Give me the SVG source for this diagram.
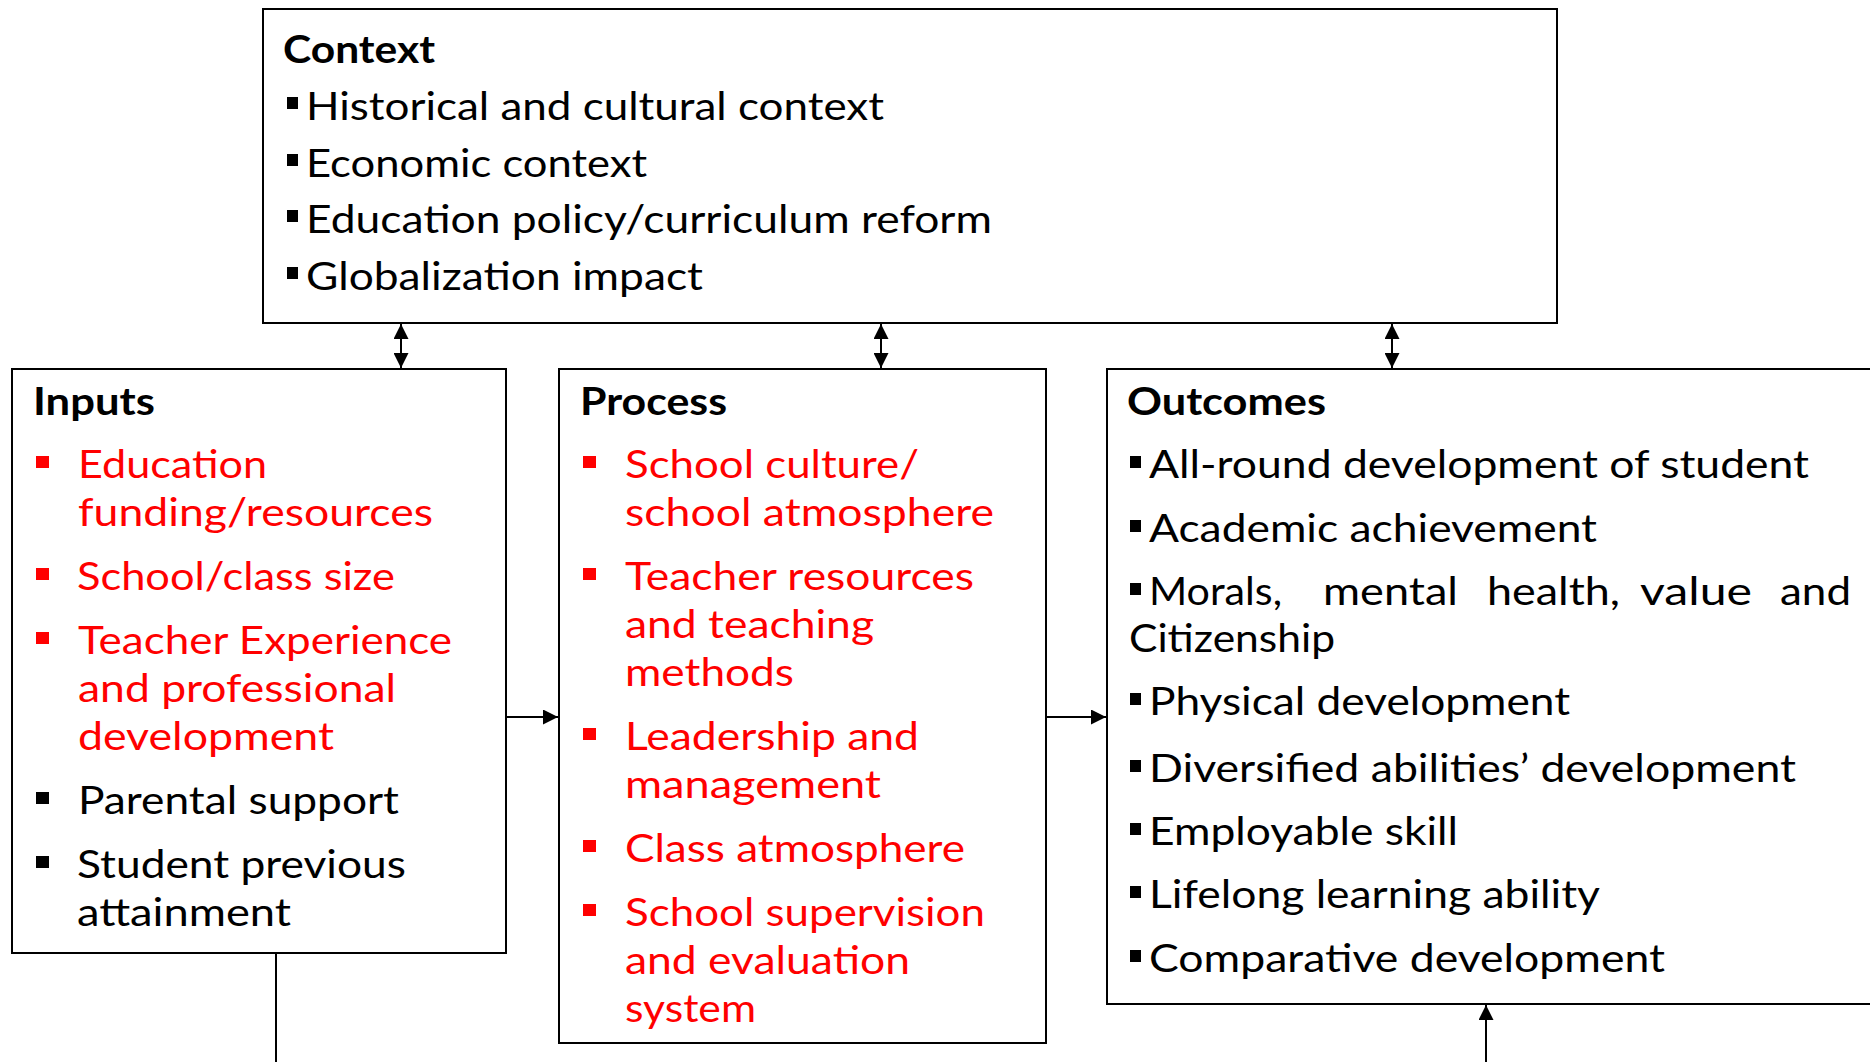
<svg xmlns="http://www.w3.org/2000/svg" width="1870" height="1062" viewBox="0 0 1870 1062">
<style>
text{font-family:Lato,"Noto Sans","Liberation Sans",sans-serif;font-size:38px;fill:#000}
.t{font-weight:bold}
.r{fill:#FF0000}
.box{fill:#fff;stroke:#000;stroke-width:2}
.bk{fill:#000}
.rb{fill:#FF0000}
.c{fill:none;stroke:#000;stroke-width:2}
</style>
<defs>
<marker id="ah" markerUnits="userSpaceOnUse" markerWidth="15" markerHeight="15" viewBox="0 0 15 15" refX="15" refY="7.5" orient="auto-start-reverse">
<path d="M0,0 L15,7.5 L0,15 Z" fill="#000"/>
</marker>
</defs>
<rect width="1870" height="1062" fill="#fff"/>
<g id="connectors">
<line class="c" x1="401" y1="324" x2="401" y2="368" marker-start="url(#ah)" marker-end="url(#ah)"/>
<line class="c" x1="881" y1="324" x2="881" y2="368" marker-start="url(#ah)" marker-end="url(#ah)"/>
<line class="c" x1="1392" y1="324" x2="1392" y2="368" marker-start="url(#ah)" marker-end="url(#ah)"/>
<line class="c" x1="507" y1="717" x2="558" y2="717" marker-end="url(#ah)"/>
<line class="c" x1="1047" y1="717" x2="1106" y2="717" marker-end="url(#ah)"/>
<line class="c" x1="276" y1="954" x2="276" y2="1062"/>
<line class="c" x1="1486" y1="1062" x2="1486" y2="1005" marker-end="url(#ah)"/>
</g>
<g id="context">
<rect class="box" x="263" y="9" width="1294" height="314"/>
<text class="t" x="283" y="63" textLength="152" lengthAdjust="spacingAndGlyphs">Context</text>
<rect class="bk" x="287" y="97" width="11" height="12"/>
<text x="306" y="120" textLength="578" lengthAdjust="spacingAndGlyphs">Historical and cultural context</text>
<rect class="bk" x="287" y="154" width="11" height="12"/>
<text x="306" y="177" textLength="341" lengthAdjust="spacingAndGlyphs">Economic context</text>
<rect class="bk" x="287" y="210" width="11" height="12"/>
<text x="306" y="233" textLength="686" lengthAdjust="spacingAndGlyphs">Education policy/curriculum reform</text>
<rect class="bk" x="287" y="267" width="11" height="12"/>
<text x="306" y="290" textLength="397" lengthAdjust="spacingAndGlyphs">Globalization impact</text>
</g>
<g id="inputs">
<rect class="box" x="12" y="369" width="494" height="584"/>
<text class="t" x="33" y="415" textLength="122" lengthAdjust="spacingAndGlyphs">Inputs</text>
<rect class="rb" x="36" y="456" width="13" height="12"/>
<text class="r" x="78" y="478" textLength="189" lengthAdjust="spacingAndGlyphs">Education</text>
<text class="r" x="78" y="526" textLength="355" lengthAdjust="spacingAndGlyphs">funding/resources</text>
<rect class="rb" x="36" y="568" width="13" height="12"/>
<text class="r" x="77" y="590" textLength="318" lengthAdjust="spacingAndGlyphs">School/class size</text>
<rect class="rb" x="36" y="632" width="13" height="12"/>
<text class="r" x="78" y="654" textLength="374" lengthAdjust="spacingAndGlyphs">Teacher Experience</text>
<text class="r" x="78" y="702" textLength="318" lengthAdjust="spacingAndGlyphs">and professional</text>
<text class="r" x="78" y="750" textLength="256" lengthAdjust="spacingAndGlyphs">development</text>
<rect class="bk" x="36" y="792" width="13" height="12"/>
<text x="78" y="814" textLength="321" lengthAdjust="spacingAndGlyphs">Parental support</text>
<rect class="bk" x="36" y="856" width="13" height="12"/>
<text x="77" y="878" textLength="329" lengthAdjust="spacingAndGlyphs">Student previous</text>
<text x="77" y="926" textLength="214" lengthAdjust="spacingAndGlyphs">attainment</text>
</g>
<g id="process">
<rect class="box" x="559" y="369" width="487" height="674"/>
<text class="t" x="580" y="415" textLength="147" lengthAdjust="spacingAndGlyphs">Process</text>
<rect class="rb" x="583" y="456" width="13" height="12"/>
<text class="r" x="625" y="478" textLength="294" lengthAdjust="spacingAndGlyphs">School culture/</text>
<text class="r" x="625" y="526" textLength="369" lengthAdjust="spacingAndGlyphs">school atmosphere</text>
<rect class="rb" x="583" y="568" width="13" height="12"/>
<text class="r" x="625" y="590" textLength="349" lengthAdjust="spacingAndGlyphs">Teacher resources</text>
<text class="r" x="625" y="638" textLength="249" lengthAdjust="spacingAndGlyphs">and teaching</text>
<text class="r" x="625" y="686" textLength="169" lengthAdjust="spacingAndGlyphs">methods</text>
<rect class="rb" x="583" y="728" width="13" height="12"/>
<text class="r" x="625" y="750" textLength="294" lengthAdjust="spacingAndGlyphs">Leadership and</text>
<text class="r" x="625" y="798" textLength="256" lengthAdjust="spacingAndGlyphs">management</text>
<rect class="rb" x="583" y="840" width="13" height="12"/>
<text class="r" x="625" y="862" textLength="340" lengthAdjust="spacingAndGlyphs">Class atmosphere</text>
<rect class="rb" x="583" y="904" width="13" height="12"/>
<text class="r" x="625" y="926" textLength="360" lengthAdjust="spacingAndGlyphs">School supervision</text>
<text class="r" x="625" y="974" textLength="285" lengthAdjust="spacingAndGlyphs">and evaluation</text>
<text class="r" x="625" y="1022" textLength="131" lengthAdjust="spacingAndGlyphs">system</text>
</g>
<g id="outcomes">
<rect class="box" x="1107" y="369" width="780" height="635"/>
<text class="t" x="1127" y="415" textLength="199" lengthAdjust="spacingAndGlyphs">Outcomes</text>
<rect class="bk" x="1130" y="456" width="11" height="12"/>
<text x="1149" y="478" textLength="660" lengthAdjust="spacingAndGlyphs">All-round development of student</text>
<rect class="bk" x="1130" y="520" width="11" height="12"/>
<text x="1149" y="542" textLength="448" lengthAdjust="spacingAndGlyphs">Academic achievement</text>
<rect class="bk" x="1130" y="583" width="11" height="12"/>
<text y="605"><tspan x="1149" textLength="133" lengthAdjust="spacingAndGlyphs">Morals,</tspan> <tspan x="1323" textLength="135" lengthAdjust="spacingAndGlyphs">mental</tspan> <tspan x="1487" textLength="133" lengthAdjust="spacingAndGlyphs">health,</tspan> <tspan x="1640" textLength="112" lengthAdjust="spacingAndGlyphs">value</tspan> <tspan x="1780" textLength="71" lengthAdjust="spacingAndGlyphs">and</tspan></text>
<text x="1129" y="652" textLength="206" lengthAdjust="spacingAndGlyphs">Citizenship</text>
<rect class="bk" x="1130" y="693" width="11" height="12"/>
<text x="1149" y="715" textLength="421" lengthAdjust="spacingAndGlyphs">Physical development</text>
<rect class="bk" x="1130" y="760" width="11" height="12"/>
<text x="1149" y="782" textLength="647" lengthAdjust="spacingAndGlyphs">Diversified abilities’ development</text>
<rect class="bk" x="1130" y="823" width="11" height="12"/>
<text x="1149" y="845" textLength="309" lengthAdjust="spacingAndGlyphs">Employable skill</text>
<rect class="bk" x="1130" y="886" width="11" height="12"/>
<text x="1149" y="908" textLength="451" lengthAdjust="spacingAndGlyphs">Lifelong learning ability</text>
<rect class="bk" x="1130" y="950" width="11" height="12"/>
<text x="1149" y="972" textLength="516" lengthAdjust="spacingAndGlyphs">Comparative development</text>
</g>
</svg>
